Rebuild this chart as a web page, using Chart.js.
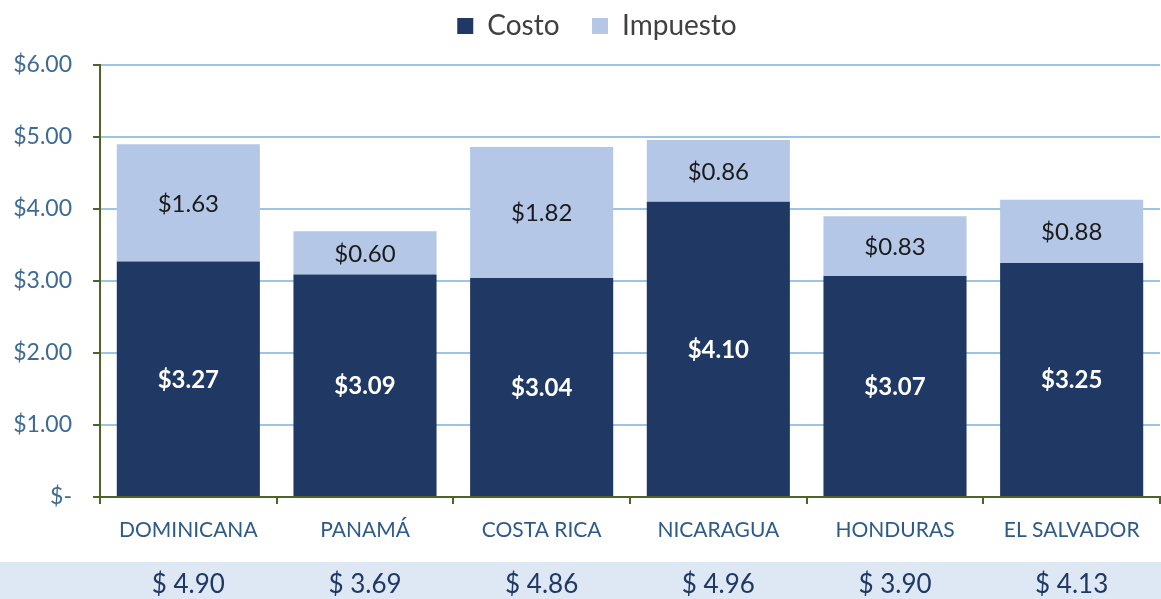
<!DOCTYPE html>
<html>
<head>
<meta charset="utf-8">
<script src="https://cdn.jsdelivr.net/npm/chart.js@4/dist/chart.umd.min.js"></script>
<style>
html,body{margin:0;padding:0;background:#fff;}
#wrap{width:1161px;height:599px;position:relative;}
</style>
</head>
<body>
<div id="wrap"><canvas id="c" width="1161" height="599"></canvas></div>
<script>
const categories = ['DOMINICANA', 'PANAMÁ', 'COSTA RICA', 'NICARAGUA', 'HONDURAS', 'EL SALVADOR'];
const costo = [3.27, 3.09, 3.04, 4.10, 3.07, 3.25];
const impuesto = [1.63, 0.60, 1.82, 0.86, 0.83, 0.88];
const totals = [4.90, 3.69, 4.86, 4.96, 3.90, 4.13];
const yTicks = [0, 1, 2, 3, 4, 5, 6];

const FONT = 'Lato, "Open Sans", sans-serif';
const AXIS_GREEN = '#4F6228';

const labelPlugin = {
  id: 'barLabels',
  afterDatasetsDraw(chart) {
    const ctx = chart.ctx;
    ctx.save();
    ctx.textAlign = 'center';
    ctx.textBaseline = 'middle';
    chart.data.datasets.forEach((ds, di) => {
      const meta = chart.getDatasetMeta(di);
      meta.data.forEach((bar, i) => {
        const y = (bar.y + bar.base) / 2 + 1;
        if (di === 0) {
          ctx.fillStyle = '#FFFFFF';
          ctx.font = 'bold 24px ' + FONT;
        } else {
          ctx.fillStyle = '#1A1A1A';
          ctx.font = '24px ' + FONT;
        }
        ctx.fillText('$' + ds.data[i].toFixed(2), bar.x, y);
      });
    });
    ctx.restore();
  }
};

const totalsPlugin = {
  id: 'totalsRow',
  afterDraw(chart) {
    const ctx = chart.ctx;
    const x = chart.scales.x;
    ctx.save();
    ctx.fillStyle = '#DEE8F4';
    ctx.fillRect(0, 562, chart.width, chart.height - 562);
    ctx.fillStyle = '#1F3864';
    ctx.font = '26px ' + FONT;
    ctx.textAlign = 'center';
    ctx.textBaseline = 'middle';
    totals.forEach((t, i) => {
      ctx.fillText('$ ' + t.toFixed(2), x.getPixelForValue(i), 585);
    });
    ctx.restore();
  }
};

const legendFit = {
  id: 'legendFit',
  beforeInit(chart) {
    const orig = chart.legend.fit;
    chart.legend.fit = function () {
      orig.call(this);
      this.height = 65;
    };
    const origDraw = chart.legend.draw;
    chart.legend.draw = function () {
      const ctx = this.ctx;
      ctx.save();
      ctx.translate(17, 1);
      origDraw.call(this);
      ctx.restore();
    };
  }
};

new Chart(document.getElementById('c'), {
  type: 'bar',
  data: {
    labels: categories,
    datasets: [
      { label: 'Costo', data: costo, backgroundColor: '#203864', barPercentage: 0.81, categoryPercentage: 1.0 },
      { label: 'Impuesto', data: impuesto, backgroundColor: '#B4C7E7', barPercentage: 0.81, categoryPercentage: 1.0 }
    ]
  },
  options: {
    responsive: false,
    animation: false,
    layout: { padding: { left: 0, right: 1, top: 0, bottom: 0 } },
    plugins: {
      legend: {
        position: 'top',
        labels: {
          boxWidth: 16, boxHeight: 16, padding: 11,
          color: '#404040',
          font: { size: 28, family: FONT },
          generateLabels(chart) {
            const items = Chart.defaults.plugins.legend.labels.generateLabels(chart);
            items.forEach((it, i) => { if (i === 0) it.text = it.text + '   '; });
            return items;
          }
        }
      },
      tooltip: { enabled: false }
    },
    scales: {
      x: {
        stacked: true,
        grid: { offset: true, drawOnChartArea: false, tickLength: 7, tickColor: AXIS_GREEN, lineWidth: 2 },
        border: { color: AXIS_GREEN, width: 2 },
        ticks: { color: '#2E5A8A', font: { size: 21, family: FONT }, padding: 14, maxRotation: 0 },
        afterFit(s) { s.height = 102; }
      },
      y: {
        stacked: true,
        min: 0, max: 6,
        afterBuildTicks(s) { s.ticks = yTicks.map(v => ({ value: v })); },
        grid: { color: '#9DC3E6', lineWidth: 2, tickLength: 7, tickColor: AXIS_GREEN },
        border: { color: AXIS_GREEN, width: 2 },
        ticks: {
          color: '#3E6A94',
          font: { size: 23, family: FONT },
          padding: 21,
          callback: v => v === 0 ? '$-' : '$' + v.toFixed(2)
        },
        afterFit(s) { s.width = 100; }
      }
    }
  },
  plugins: [legendFit, labelPlugin, totalsPlugin]
});
</script>
</body>
</html>
